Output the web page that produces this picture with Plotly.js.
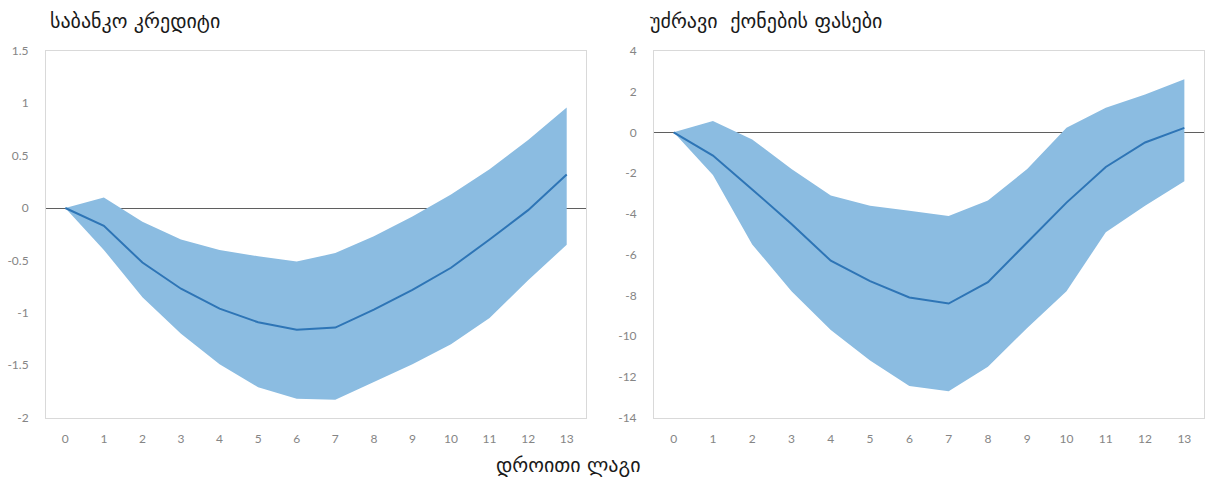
<!DOCTYPE html>
<html>
<head>
<meta charset="utf-8">
<script src="https://cdn.plot.ly/plotly-3.0.1.min.js"></script>
<style>
  html, body { margin: 0; padding: 0; background: #ffffff; }
  #chart { width: 1213px; height: 479px; }
</style>
</head>
<body>
<div id="chart"></div>
<script>
// ---- data ----
const lags = [0, 1, 2, 3, 4, 5, 6, 7, 8, 9, 10, 11, 12, 13];
const lagLabels = ["0", "1", "2", "3", "4", "5", "6", "7", "8", "9", "10", "11", "12", "13"];

const creditMean  = [0, -0.17, -0.52, -0.77, -0.96, -1.09, -1.16, -1.14, -0.97, -0.78, -0.57, -0.30, -0.02, 0.32];
const creditUpper = [0, 0.10, -0.13, -0.30, -0.40, -0.46, -0.51, -0.43, -0.27, -0.08, 0.13, 0.37, 0.65, 0.96];
const creditLower = [0, -0.40, -0.85, -1.20, -1.49, -1.71, -1.82, -1.83, -1.66, -1.49, -1.30, -1.05, -0.69, -0.35];

const priceMean  = [0, -1.14, -2.8, -4.5, -6.3, -7.3, -8.1, -8.4, -7.35, -5.4, -3.45, -1.7, -0.5, 0.22];
const priceUpper = [0, 0.55, -0.35, -1.8, -3.1, -3.6, -3.85, -4.1, -3.35, -1.8, 0.22, 1.2, 1.85, 2.6];
const priceLower = [0, -2.1, -5.5, -7.8, -9.7, -11.2, -12.45, -12.7, -11.5, -9.6, -7.8, -4.9, -3.6, -2.4];

const creditTickVals = [1.5, 1, 0.5, 0, -0.5, -1, -1.5, -2];
const creditTickText = ["1.5", "1", "0.5", "0", "-0.5", "-1", "-1.5", "-2"];
const priceTickVals = [4, 2, 0, -2, -4, -6, -8, -10, -12, -14];
const priceTickText = ["4", "2", "0", "-2", "-4", "-6", "-8", "-10", "-12", "-14"];

const titleCredit = "საბანკო კრედიტი";
const titlePrice = "უძრავი  ქონების ფასები";
const titleX = "დროითი ლაგი";

// ---- styles ----
const bandColor = "#8bbce1";
const lineColor = "#2e75b6";
const geoFont = { family: "DejaVu Sans, Noto Sans, sans-serif", size: 20, color: "#1a1a1a" };
const tickFont = { family: "Lato, Open Sans, sans-serif", size: 12, color: "#858585" };

function bandTraces(xa, ya, lower, upper, mean) {
  return [
    { x: lags, y: lower, xaxis: xa, yaxis: ya, type: "scatter", mode: "lines",
      line: { width: 0, color: bandColor }, hoverinfo: "skip", showlegend: false },
    { x: lags, y: upper, xaxis: xa, yaxis: ya, type: "scatter", mode: "lines",
      line: { width: 0, color: bandColor }, fill: "tonexty", fillcolor: bandColor,
      hoverinfo: "skip", showlegend: false },
    { x: lags, y: mean, xaxis: xa, yaxis: ya, type: "scatter", mode: "lines",
      line: { width: 2, color: lineColor }, showlegend: false }
  ];
}

const data = [].concat(
  bandTraces("x", "y", creditLower, creditUpper, creditMean),
  bandTraces("x2", "y2", priceLower, priceUpper, priceMean)
);

const xCommon = {
  range: [-0.5, 13.5], tickvals: lags, ticktext: lagLabels, tickfont: tickFont,
  showgrid: false, zeroline: false, showline: true, mirror: true,
  linecolor: "#d9d9d9", linewidth: 1, ticks: "", ticklabelstandoff: 10, fixedrange: true
};
const yCommon = {
  tickfont: tickFont, showgrid: false, zeroline: true, zerolinecolor: "#5f5f5f",
  zerolinewidth: 1, showline: true, mirror: true, linecolor: "#d9d9d9", linewidth: 1,
  ticks: "", ticklabelstandoff: 14, layer: "above traces", fixedrange: true
};

const layout = {
  width: 1213, height: 479,
  margin: { l: 0, r: 0, t: 0, b: 0 },
  paper_bgcolor: "#ffffff", plot_bgcolor: "#ffffff",
  showlegend: false,
  xaxis: Object.assign({}, xCommon, { domain: [46 / 1213, 586 / 1213], anchor: "y" }),
  yaxis: Object.assign({}, yCommon, { domain: [0.128, 0.894], range: [-2, 1.5],
    tickvals: creditTickVals, ticktext: creditTickText, anchor: "x" }),
  xaxis2: Object.assign({}, xCommon, { domain: [654 / 1213, 1204 / 1213], anchor: "y2" }),
  yaxis2: Object.assign({}, yCommon, { domain: [0.128, 0.894], range: [-14, 4],
    tickvals: priceTickVals, ticktext: priceTickText, anchor: "x2" }),
  annotations: [
    { text: titleCredit, xref: "paper", yref: "paper", x: 48 / 1213, y: 1 - 21 / 479,
      xanchor: "left", yanchor: "middle", showarrow: false, font: geoFont },
    { text: titlePrice, xref: "paper", yref: "paper", x: 648 / 1213, y: 1 - 21 / 479,
      xanchor: "left", yanchor: "middle", showarrow: false, font: geoFont },
    { text: titleX, xref: "paper", yref: "paper", x: 568 / 1213, y: 1 - 465 / 479,
      xanchor: "center", yanchor: "middle", showarrow: false, font: geoFont }
  ]
};

Plotly.newPlot("chart", data, layout, { staticPlot: true, displayModeBar: false });
</script>
</body>
</html>
